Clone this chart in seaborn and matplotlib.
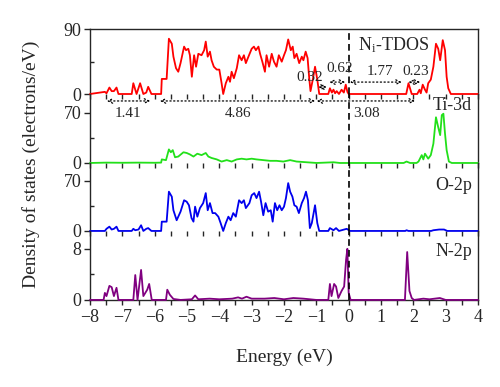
import numpy as np
import pandas as pd
import matplotlib
matplotlib.use('Agg')
from matplotlib import pyplot as plt
from matplotlib.ticker import MultipleLocator
import seaborn as sns

# Ni-TDOS (red)
tdos_e = [-8.0, -7.54, -7.49, -7.40, -7.33, -7.26, -7.18, -7.12, -6.71, -6.66, -6.56, -6.45, -6.35, -6.26,
          -6.20, -6.10, -5.80, -5.78, -5.63, -5.56, -5.47, -5.42, -5.34, -5.27, -5.20, -5.09, -5.03, -4.96,
          -4.91, -4.85, -4.78, -4.72, -4.65, -4.55, -4.47, -4.42, -4.36, -4.29, -4.24, -4.17, -4.08, -4.0,
          -3.93, -3.88, -3.80, -3.72, -3.67, -3.62, -3.55, -3.46, -3.39, -3.31, -3.24, -3.18, -3.10, -3.0,
          -2.93, -2.87, -2.79, -2.74, -2.67, -2.59, -2.54, -2.46, -2.38, -2.31, -2.23, -2.16, -2.07, -2.0,
          -1.94, -1.87, -1.79, -1.73, -1.68, -1.61, -1.53, -1.45, -1.40, -1.33, -1.27, -1.22, -1.18, -1.11,
          -1.04, -0.97, -0.91, -0.63, -0.58, -0.52, -0.47, -0.42, -0.37, -0.30, -0.22, -0.15, -0.09, -0.04,
          0.0, 1.78, 1.85, 1.95, 2.12, 2.19, 2.23, 2.29, 2.36, 2.41, 2.46, 2.54, 2.62, 2.70, 2.77, 2.83,
          2.91, 2.98, 3.03, 3.08, 3.16, 4.0]
tdos_v = [0, 3, 1, 9, 4, 4, 9, 0, 0, 15, 0, 15, 0, 2,
          10, 0, 0, 21, 21, 77, 70, 52, 36, 31, 43, 66, 61, 63,
          54, 24, 54, 38, 56, 54, 61, 73, 52, 59, 47, 38, 34, 34,
          15, 0, 15, 24, 17, 31, 22, 36, 54, 47, 54, 43, 52, 63,
          66, 61, 66, 56, 45, 31, 54, 38, 56, 45, 38, 54, 45, 54,
          61, 76, 61, 66, 50, 56, 43, 52, 47, 59, 50, 22, 4, 20,
          38, 20, 0, 0, 8, 2, 6, 1, 4, 0, 6, 2, 13, 3,
          0, 0, 15, 0, 0, 6, 1, 13, 6, 2, 15, 20, 38, 70, 63, 47,
          75, 61, 24, 8, 0, 0]

# Ti-3d (green)
ti_e = [-8.0, -7.5, -7.0, -6.5, -6.0, -5.80, -5.78, -5.65, -5.56, -5.50, -5.44, -5.37, -5.27, -5.11,
        -5.01, -4.91, -4.80, -4.68, -4.55, -4.42, -4.34, -4.24, -4.08, -3.93, -3.77, -3.62, -3.46, -3.31,
        -3.16, -3.0, -2.85, -2.64, -2.43, -2.23, -2.02, -1.81, -1.61, -1.30, -0.99, -0.47, -0.27, 1.70,
        1.79, 1.90, 2.10, 2.16, 2.26, 2.31, 2.36, 2.46, 2.54, 2.62, 2.70, 2.77, 2.83, 2.88, 2.93, 2.98,
        3.03, 3.10, 3.19, 4.0]
ti_v = [0, 0.5, 0.3, 0.5, 0.3, 0.5, 5, 4, 19, 15, 18, 8, 9, 15,
        14, 12, 9, 13, 11, 14, 9, 7, 5, 2, 4, 2, 5, 6,
        5, 6, 5, 4, 3, 3, 2, 4, 2, 1, 0, 1, 0, 0,
        2, 0, 0, 2, 11, 5, 13, 6, 11, 27, 64, 50, 39, 67, 69, 41,
        18, 2, 0, 0]

# O-2p (blue)
o_e = [-8.0, -7.54, -7.49, -7.40, -7.33, -7.26, -7.18, -7.12, -6.71, -6.66, -6.60, -6.50, -6.42, -6.35,
       -6.26, -6.20, -6.10, -5.80, -5.78, -5.63, -5.56, -5.47, -5.42, -5.32, -5.20, -5.09, -5.01, -4.94,
       -4.86, -4.80, -4.75, -4.68, -4.60, -4.50, -4.42, -4.36, -4.29, -4.21, -4.13, -4.03, -3.96, -3.88,
       -3.80, -3.72, -3.65, -3.57, -3.49, -3.39, -3.31, -3.24, -3.18, -3.07, -3.0, -2.92, -2.85, -2.77,
       -2.71, -2.64, -2.57, -2.49, -2.41, -2.35, -2.28, -2.21, -2.14, -2.07, -2.0, -1.94, -1.87, -1.81,
       -1.74, -1.68, -1.61, -1.54, -1.45, -1.38, -1.32, -1.26, -1.20, -1.14, -1.04, -0.97, -0.91, -0.63,
       -0.58, -0.47, -0.39, -0.30, -0.22, -0.06, 0.04, 1.75, 1.79, 1.85, 2.55, 2.62, 2.80, 2.95, 3.05, 4.0]
o_v = [0, 0, 3, 6, 2, 3, 6, 0, 0, 3, 1, 2, 8, 0,
       3, 4, 0, 0, 13, 13, 55, 48, 29, 15, 27, 43, 41, 36,
       18, 13, 34, 20, 32, 39, 53, 29, 39, 25, 25, 20, 11, 0,
       11, 20, 15, 25, 20, 43, 39, 43, 32, 39, 50, 53, 46, 55,
       41, 22, 39, 27, 29, 13, 39, 29, 36, 29, 34, 46, 67, 55,
       48, 36, 34, 25, 39, 46, 55, 43, 4, 11, 36, 11, 0, 0,
       4, 1, 4, 0, 1, 3, 0, 0, 1, 0, 0, 1, 2, 2, 0, 0]

# N-2p (purple)
n_e = [-8.0, -7.58, -7.54, -7.49, -7.40, -7.33, -7.26, -7.18, -7.12, -6.66, -6.60, -6.53, -6.42, -6.35,
       -6.23, -6.17, -6.09, -5.65, -5.61, -5.53, -5.42, -5.2, -4.85, -4.75, -4.65, -4.3, -4.0, -3.6,
       -3.42, -3.3, -3.16, -3.0, -2.6, -2.3, -2.0, -1.71, -1.4, -1.0, -0.63, -0.58, -0.53, -0.45, -0.39,
       -0.32, -0.22, -0.14, -0.08, -0.04, 0.0, 0.06, 1.74, 1.81, 1.88, 1.95, 2.02, 2.31, 2.5, 2.82, 3.0, 4.0]
n_v = [0, 0, 1.1, 0.6, 2.2, 2.0, 0.6, 1.9, 0, 0, 3.9, 0, 4.7, 0.6,
       1.6, 2.5, 0, 0, 1.6, 0.8, 0.15, 0, 0.1, 0.7, 0.1, 0.2, 0.1, 0.2,
       0.4, 0.2, 0.5, 0.2, 0.2, 0.3, 0.1, 0.3, 0.2, 0, 0, 2.5, 0.6, 2.5, 2.1,
       0.3, 1.4, 2.1, 6.3, 8.0, 1.1, 0, 0, 7.5, 1.4, 0.3, 0, 0.2, 0.1, 0.3, 0, 0]

panels = [
    ('tdos', tdos_e, tdos_v, '#ff0000', 90, 90.5, r'N$_{\mathregular{i}}$-TDOS'),
    ('ti', ti_e, ti_v, '#22e01a', 70, 96.6, 'Ti-3d'),
    ('o', o_e, o_v, '#0000ee', 70, 95.2, 'O-2p'),
    ('n', n_e, n_v, '#800080', 8, 10.8, 'N-2p'),
]

# gap annotations (label, start, end, text x)
gaps_below = [('1.41', -7.48, -6.14, -6.81), ('4.86', -5.84, -1.04, -3.41), ('3.08', -0.99, 2.05, 0.56)]
gaps_above = [('0.32', -0.94, -0.68, -1.20, 9.7, 23.5), ('0.62', -0.60, -0.11, -0.27, 16.6, 36),
              ('1.77', 0.04, 1.64, 0.97, 16.6, 32), ('0.23', 1.85, 2.21, 2.08, 16.6, 32)]

sns.set_style('ticks')
plt.rcParams['font.family'] = ['Liberation Serif', 'DejaVu Serif']
plt.rcParams['mathtext.default'] = 'regular'
plt.rcParams['font.size'] = 13

fig = plt.figure(figsize=(5.0, 3.87), dpi=100)
gs = fig.add_gridspec(4, 1, left=0.18, right=0.956, top=0.925, bottom=0.225,
                      hspace=0, height_ratios=[65, 69, 68, 69])
axes = [fig.add_subplot(gs[i]) for i in range(4)]

for i, (key, e, v, col, ytop, ymax, lab) in enumerate(panels):
    ax = axes[i]
    df = pd.DataFrame({'E': e, 'dos': v})
    sns.lineplot(data=df, x='E', y='dos', ax=ax, color=col, lw=1.3,
                 sort=False, estimator=None, clip_on=False, zorder=3)
    ax.axvline(0, color='black', ls=(0, (4, 2.5)), lw=1.2, zorder=4, clip_on=False)
    ax.set_xlim(-8, 4)
    ax.set_ylim(0, ymax)
    ax.set_yticks([0, ytop])
    ax.yaxis.set_minor_locator(MultipleLocator(ytop / 2))
    ax.set_xlabel('')
    ax.set_ylabel('')
    ax.spines['right'].set_visible(True)
    ax.spines['top'].set_visible(i == 0)
    ax.spines['bottom'].set_visible(i == 3)
    for sp in ax.spines.values():
        sp.set_linewidth(1.0)
    ax.tick_params(axis='y', which='major', direction='out', length=4, width=1, labelsize=13, pad=2)
    ax.tick_params(axis='y', which='minor', direction='in', length=3, width=1)
    ax.xaxis.set_major_locator(MultipleLocator(1))
    ax.xaxis.set_minor_locator(MultipleLocator(0.5))
    ax.tick_params(axis='x', which='both', direction='out', length=3.5, width=1, labelsize=13, pad=3)
    if i < 3:
        ax.tick_params(axis='x', labelbottom=False)
    ax.text(3.82 if i else 0.3, {0: 68, 1: 80, 2: 63, 3: 7.6}[i], lab,
            ha='right' if i else 'left', va='center', fontsize=13)
    ax.patch.set_alpha(0)

axes[3].set_xticks(np.arange(-8, 5, 1))
axes[3].set_xticklabels([str(t).replace('-', '\u2212') for t in range(-8, 5)])

top = axes[0]
arrow = dict(arrowstyle='<->', linestyle=(0, (1, 2)), lw=0.9, color='black',
             shrinkA=0, shrinkB=0, mutation_scale=8)
for txt, x0, x1, xt in gaps_below:
    top.annotate('', xy=(x0, -9.7), xytext=(x1, -9.7), arrowprops=arrow, annotation_clip=False)
    top.text(xt, -27.5, txt, ha='center', va='center', fontsize=11, zorder=6)
for txt, x0, x1, xt, ya, yt in gaps_above:
    top.annotate('', xy=(x0, ya), xytext=(x1, ya), arrowprops=arrow, annotation_clip=False)
    top.text(xt, yt, txt, ha='center', va='center', fontsize=11, zorder=6)

fig.text(0.063, 0.575, 'Density of states (electrons/eV)', rotation=90,
         ha='center', va='center', fontsize=14)
fig.text(0.568, 0.077, 'Energy (eV)', ha='center', va='center', fontsize=14)

fig.savefig('out.png', dpi=100)
